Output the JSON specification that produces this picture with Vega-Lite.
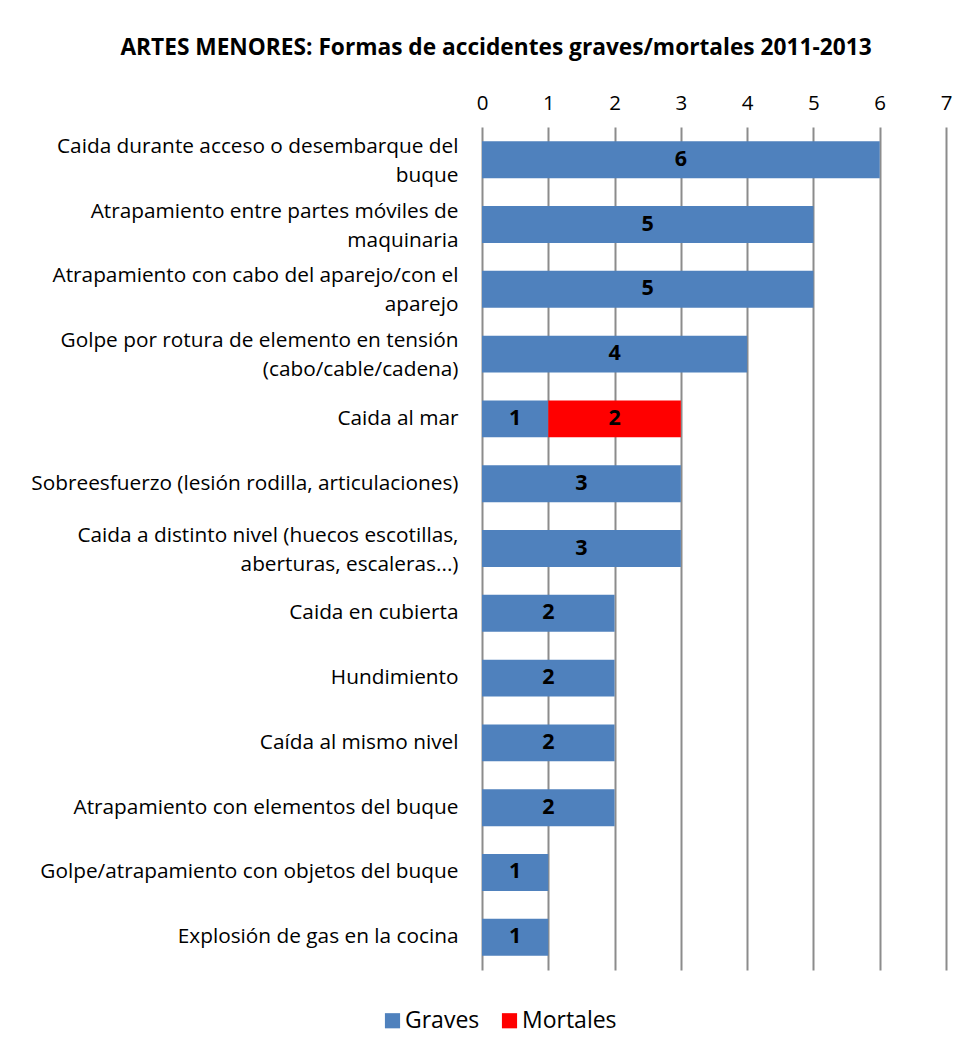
{
  "$schema": "https://vega.github.io/schema/vega-lite/v6.json",
  "width": 464,
  "height": 843,
  "autosize": {"type": "none"},
  "padding": {"left": 482, "top": 127, "right": 25, "bottom": 90},
  "background": "white",
  "config": {
    "font": "Open Sans",
    "view": {"stroke": null}
  },
  "title": {
    "text": "ARTES MENORES: Formas de accidentes graves/mortales 2011-2013",
    "font": "Open Sans",
    "fontSize": 22.7,
    "fontWeight": "bold",
    "color": "#000000",
    "anchor": "middle",
    "dx": -218,
    "offset": 33
  },
  "data": {
    "values": [
      {"forma": "Caida durante acceso o desembarque del|buque", "tipo": "Graves", "valor": 6, "orden": 1},
      {"forma": "Atrapamiento entre partes móviles de|maquinaria", "tipo": "Graves", "valor": 5, "orden": 1},
      {"forma": "Atrapamiento con cabo del aparejo/con el|aparejo", "tipo": "Graves", "valor": 5, "orden": 1},
      {"forma": "Golpe por rotura de elemento en tensión|(cabo/cable/cadena)", "tipo": "Graves", "valor": 4, "orden": 1},
      {"forma": "Caida al mar", "tipo": "Graves", "valor": 1, "orden": 1},
      {"forma": "Caida al mar", "tipo": "Mortales", "valor": 2, "orden": 2},
      {"forma": "Sobreesfuerzo (lesión rodilla, articulaciones)", "tipo": "Graves", "valor": 3, "orden": 1},
      {"forma": "Caida a distinto nivel (huecos escotillas,|aberturas, escaleras...)", "tipo": "Graves", "valor": 3, "orden": 1},
      {"forma": "Caida en cubierta", "tipo": "Graves", "valor": 2, "orden": 1},
      {"forma": "Hundimiento", "tipo": "Graves", "valor": 2, "orden": 1},
      {"forma": "Caída al mismo nivel ", "tipo": "Graves", "valor": 2, "orden": 1},
      {"forma": "Atrapamiento con elementos del buque", "tipo": "Graves", "valor": 2, "orden": 1},
      {"forma": "Golpe/atrapamiento con objetos del buque", "tipo": "Graves", "valor": 1, "orden": 1},
      {"forma": "Explosión de gas en la cocina", "tipo": "Graves", "valor": 1, "orden": 1}
    ]
  },
  "encoding": {
    "y": {
      "field": "forma",
      "type": "nominal",
      "sort": null,
      "title": null,
      "scale": {"paddingInner": 0.43, "paddingOuter": 0.22},
      "axis": {
        "labelExpr": "split(datum.value, '|')",
        "labelFont": "Open Sans",
        "labelFontSize": 20.8,
        "labelColor": "#000000",
        "labelLineHeight": 29,
        "labelLimit": 480,
        "labelPadding": 24,
        "labelOffset": {"condition": {"test": "indexof(datum.value, '|') >= 0", "value": -13}, "value": 0},
        "ticks": false,
        "domain": false,
        "grid": false
      }
    },
    "x": {
      "field": "valor",
      "type": "quantitative",
      "stack": "zero",
      "title": null,
      "scale": {"domain": [0, 7], "nice": false},
      "axis": {
        "orient": "top",
        "values": [0, 1, 2, 3, 4, 5, 6, 7],
        "labelFont": "Open Sans",
        "labelFontSize": 20.5,
        "labelColor": "#000000",
        "labelPadding": 14,
        "labelFlush": false,
        "ticks": false,
        "domain": false,
        "grid": true,
        "gridColor": "#8c8c8c",
        "gridWidth": 2
      }
    }
  },
  "layer": [
    {
      "mark": {"type": "bar", "cornerRadius": 0},
      "encoding": {
        "color": {
          "field": "tipo",
          "type": "nominal",
          "title": null,
          "scale": {"domain": ["Graves", "Mortales"], "range": ["#4F81BD", "#FF0000"]},
          "legend": {
            "orient": "none",
            "direction": "horizontal",
            "legendX": -101,
            "legendY": 882,
            "symbolType": "square",
            "symbolSize": 230,
            "symbolOpacity": 1,
            "labelFont": "Open Sans",
            "labelFontSize": 23,
            "labelColor": "#000000",
            "columnPadding": 18,
            "labelOffset": 1
          }
        },
        "order": {"field": "orden", "type": "quantitative"}
      }
    },
    {
      "mark": {"type": "text", "fontWeight": "bold", "fontSize": 21.5, "font": "Open Sans", "color": "#000000"},
      "encoding": {
        "x": {"field": "valor", "type": "quantitative", "stack": "zero", "bandPosition": 0.5},
        "text": {"field": "valor", "type": "quantitative"},
        "order": {"field": "orden", "type": "quantitative"},
        "detail": {"field": "tipo"}
      }
    }
  ]
}
